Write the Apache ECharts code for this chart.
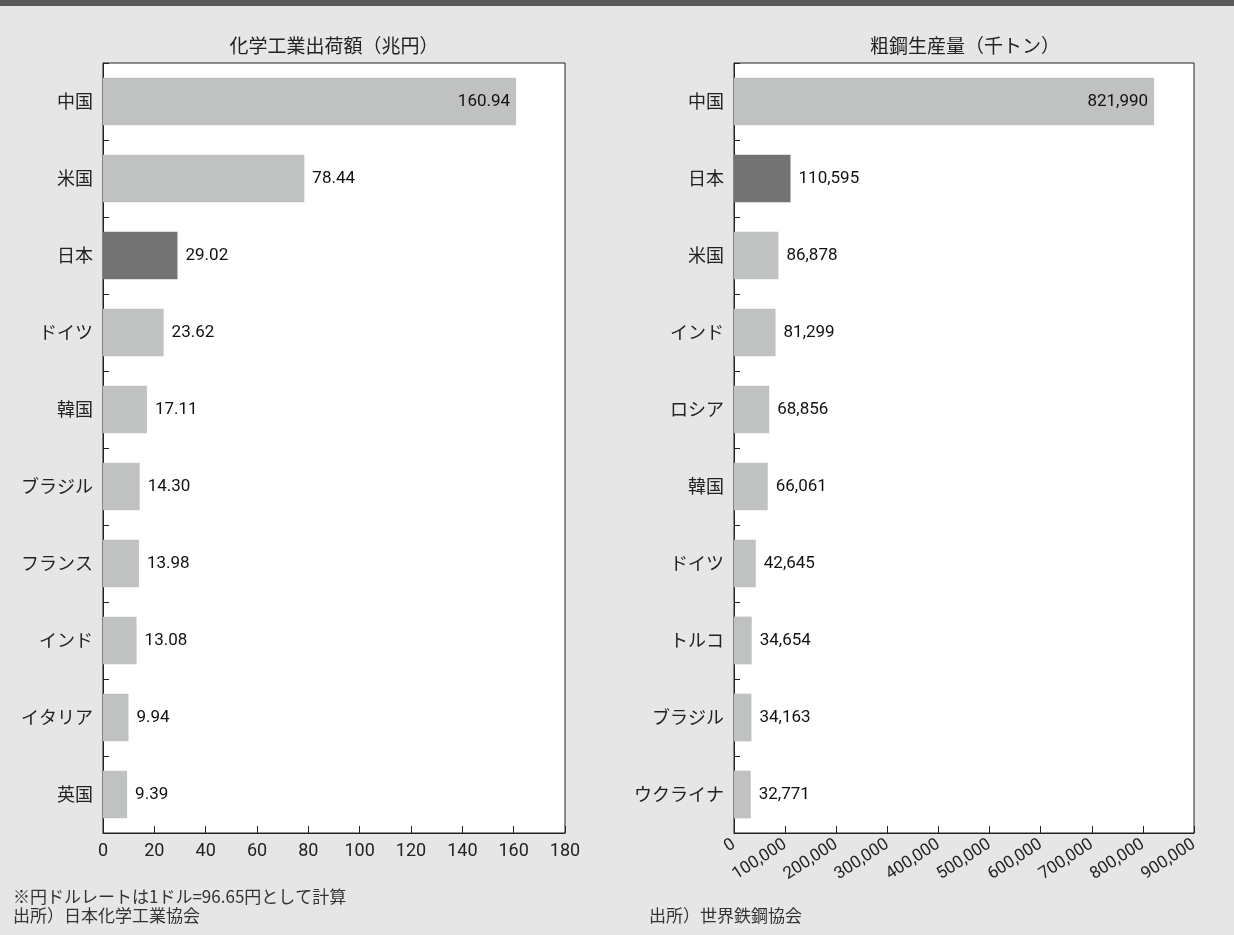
<!DOCTYPE html>
<html>
<head>
<meta charset="utf-8">
<script src="https://cdn.jsdelivr.net/npm/echarts@6/dist/echarts.min.js"></script>
<style>
  html, body { margin: 0; padding: 0; background: #e6e6e6; }
  #bar { height: 6px; background: #595757; }
  #main { width: 1234px; height: 929px; }
</style>
</head>
<body>
<div id="bar"></div>
<div id="main"></div>
<script>
// 化学工業出荷額（兆円）
var chemCountries = ['中国', '米国', '日本', 'ドイツ', '韓国', 'ブラジル', 'フランス', 'インド', 'イタリア', '英国'];
var chemValues = [160.94, 78.44, 29.02, 23.62, 17.11, 14.30, 13.98, 13.08, 9.94, 9.39];

// 粗鋼生産量（千トン）
var steelCountries = ['中国', '日本', '米国', 'インド', 'ロシア', '韓国', 'ドイツ', 'トルコ', 'ブラジル', 'ウクライナ'];
var steelValues = [821990, 110595, 86878, 81299, 68856, 66061, 42645, 34654, 34163, 32771];

var FONT = '"Noto Sans CJK JP", "Noto Sans", sans-serif';
var NUMFONT = 'Roboto, "Noto Sans CJK JP", sans-serif';
var LIGHT = '#c0c2c1';
var DARK = '#737373';

function fmtComma(v) {
  return String(v).replace(/\B(?=(\d{3})+(?!\d))/g, ',');
}

function barData(names, values) {
  return values.map(function (v, i) {
    var item = {
      value: v,
      itemStyle: { color: names[i] === '日本' ? DARK : LIGHT }
    };
    // 一番長い棒は内側に数値
    if (i === 0) {
      item.label = { position: 'insideRight', distance: 6 };
    }
    return item;
  });
}

var myChart = echarts.init(document.getElementById('main'));

var catAxis = function (idx, names) {
  return {
    type: 'category',
    gridIndex: idx,
    data: names,
    inverse: true,
    axisLine: { show: true, lineStyle: { color: '#222', width: 1 } },
    axisTick: { show: true, inside: true, length: 6, alignWithLabel: false, interval: 0,
      lineStyle: { color: '#222', width: 1 } },
    axisLabel: { fontFamily: FONT, fontSize: 18, color: '#222', margin: 10 }
  };
};

var titleStyle = { fontSize: 19, fontWeight: 'normal', color: '#222', fontFamily: FONT };
var noteStyle = { fontSize: 17, fontWeight: 'normal', color: '#333', lineHeight: 19, fontFamily: FONT };

option = {
  backgroundColor: '#e6e6e6',
  textStyle: { fontFamily: FONT },
  title: [
    { text: '化学工業出荷額（兆円）', left: 334, top: 30, padding: 0, textAlign: 'center', textStyle: titleStyle },
    { text: '粗鋼生産量（千トン）', left: 965, top: 30, padding: 0, textAlign: 'center', textStyle: titleStyle },
    { text: '※円ドルレートは1ドル=96.65円として計算\n出所）日本化学工業協会', left: 13, top: 881, padding: 0, textStyle: noteStyle },
    { text: '出所）世界鉄鋼協会', left: 649, top: 900, padding: 0, textStyle: noteStyle }
  ],
  grid: [
    { left: 103, top: 57, width: 462, height: 770, show: true, backgroundColor: '#fff', borderColor: '#222', borderWidth: 1 },
    { left: 734, top: 57, width: 460, height: 770, show: true, backgroundColor: '#fff', borderColor: '#222', borderWidth: 1 }
  ],
  xAxis: [
    {
      type: 'value', gridIndex: 0, min: 0, max: 180, interval: 20,
      splitLine: { show: false },
      axisLine: { show: true, lineStyle: { color: '#222' } },
      axisTick: { show: true, inside: true, length: 7, lineStyle: { color: '#222' } },
      axisLabel: { fontFamily: NUMFONT, fontSize: 18, color: '#222', margin: 10 }
    },
    {
      type: 'value', gridIndex: 1, min: 0, max: 900000, interval: 100000,
      splitLine: { show: false },
      axisLine: { show: true, lineStyle: { color: '#222' } },
      axisTick: { show: true, inside: true, length: 7, lineStyle: { color: '#222' } },
      axisLabel: { fontFamily: NUMFONT, fontSize: 17, color: '#222', rotate: 33, margin: 10,
        formatter: function (v) { return fmtComma(v); } }
    }
  ],
  yAxis: [catAxis(0, chemCountries), catAxis(1, steelCountries)],
  series: [
    {
      type: 'bar', xAxisIndex: 0, yAxisIndex: 0, barWidth: '62%',
      data: barData(chemCountries, chemValues),
      label: { show: true, position: 'right', distance: 8, fontSize: 17, color: '#111', fontFamily: NUMFONT,
        formatter: function (p) { return p.value.toFixed(2); } }
    },
    {
      type: 'bar', xAxisIndex: 1, yAxisIndex: 1, barWidth: '62%',
      data: barData(steelCountries, steelValues),
      label: { show: true, position: 'right', distance: 8, fontSize: 17, color: '#111', fontFamily: NUMFONT,
        formatter: function (p) { return fmtComma(p.value); } }
    }
  ]
};
myChart.setOption(option);
</script>
</body>
</html>
